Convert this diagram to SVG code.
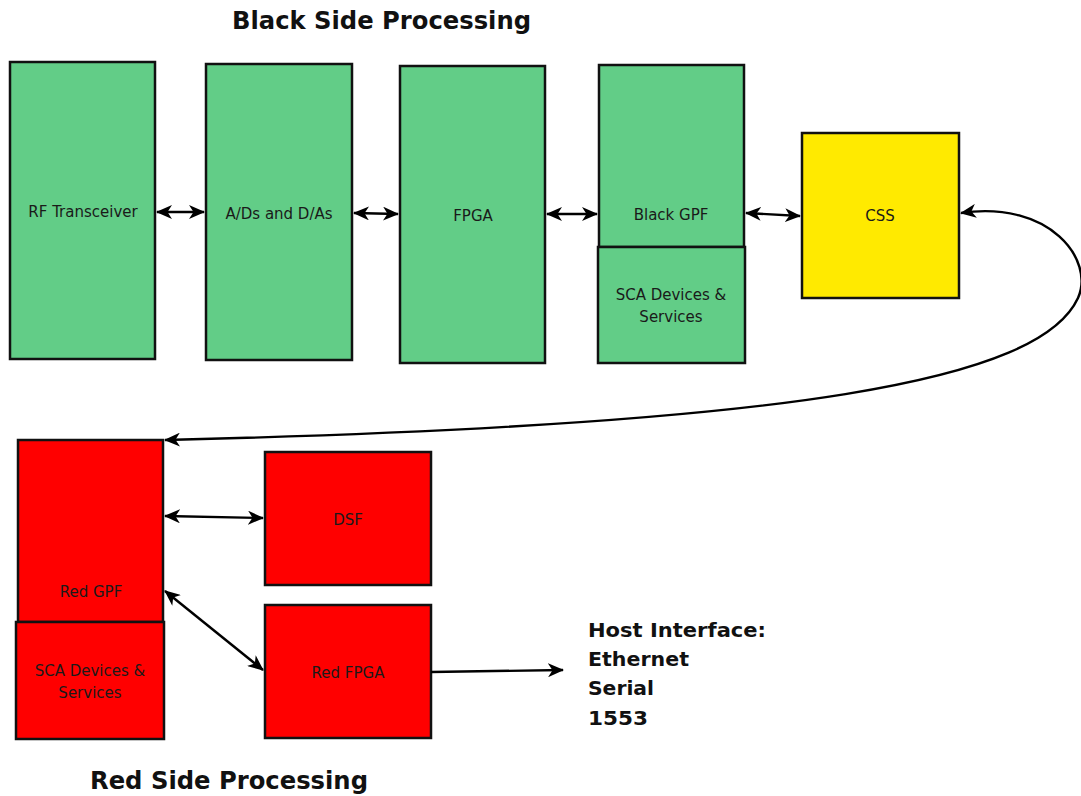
<svg xmlns="http://www.w3.org/2000/svg" width="1081" height="796" viewBox="0 0 1081 796">
  <defs>
    <marker id="arr" viewBox="0 0 16 14" refX="15" refY="7" markerWidth="16" markerHeight="14" markerUnits="userSpaceOnUse" orient="auto-start-reverse">
      <path d="M0,0 L16,7 L0,14 L4.5,7 Z" fill="#000"/>
    </marker>
    <style>
      .green { fill: #62cd87; stroke: #111; stroke-width: 2.5; }
      .red { fill: #ff0000; stroke: #111; stroke-width: 2.5; }
      .yellow { fill: #ffea00; stroke: #111; stroke-width: 2.5; }
      .lbl { font-family: "DejaVu Sans", Verdana, sans-serif; font-size: 15px; fill: #1a1a1a; text-anchor: middle; }
      .title { font-family: "DejaVu Sans", Verdana, sans-serif; font-size: 24px; font-weight: bold; fill: #111; }
      .host { font-family: "DejaVu Sans", Verdana, sans-serif; font-size: 20px; font-weight: bold; fill: #111; }
      .conn { fill: none; stroke: #000; stroke-width: 2.4; }
    </style>
  </defs>

  <rect width="1081" height="796" fill="#fff"/>

  <text class="title" x="232" y="29" textLength="299" lengthAdjust="spacingAndGlyphs">Black Side Processing</text>
  <text class="title" x="90" y="789" textLength="278" lengthAdjust="spacingAndGlyphs">Red Side Processing</text>

  <g id="rf-transceiver">
    <rect class="green" x="10" y="62" width="145" height="297"/>
    <text class="lbl" x="83" y="217">RF Transceiver</text>
  </g>
  <g id="ad-da">
    <rect class="green" x="206" y="64" width="146" height="296"/>
    <text class="lbl" x="279" y="219">A/Ds and D/As</text>
  </g>
  <g id="fpga">
    <rect class="green" x="400" y="66" width="145" height="297"/>
    <text class="lbl" x="473" y="221">FPGA</text>
  </g>
  <g id="black-gpp">
    <rect class="green" x="599" y="65" width="145" height="182"/>
    <text class="lbl" x="671" y="220">Black GPF</text>
  </g>
  <g id="black-sca">
    <rect class="green" x="598" y="247" width="147" height="116"/>
    <text class="lbl" x="671" y="300">SCA Devices &amp;</text>
    <text class="lbl" x="671" y="322">Services</text>
  </g>
  <g id="css">
    <rect class="yellow" x="802" y="133" width="157" height="165"/>
    <text class="lbl" x="880" y="221">CSS</text>
  </g>

  <g id="red-gpp">
    <rect class="red" x="18" y="440" width="145" height="182"/>
    <text class="lbl" x="91" y="597">Red GPF</text>
  </g>
  <g id="red-sca">
    <rect class="red" x="16" y="622" width="148" height="117"/>
    <text class="lbl" x="90" y="676">SCA Devices &amp;</text>
    <text class="lbl" x="90" y="698">Services</text>
  </g>
  <g id="dsp">
    <rect class="red" x="265" y="452" width="166" height="133"/>
    <text class="lbl" x="348" y="525">DSF</text>
  </g>
  <g id="red-fpga">
    <rect class="red" x="265" y="605" width="166" height="133"/>
    <text class="lbl" x="348" y="678">Red FPGA</text>
  </g>

  <g id="host-interface">
    <text class="host" x="588" y="637" textLength="178" lengthAdjust="spacingAndGlyphs">Host Interface:</text>
    <text class="host" x="588" y="666" textLength="101" lengthAdjust="spacingAndGlyphs">Ethernet</text>
    <text class="host" x="588" y="695" textLength="66" lengthAdjust="spacingAndGlyphs">Serial</text>
    <text class="host" x="588" y="725" textLength="60" lengthAdjust="spacingAndGlyphs">1553</text>
  </g>

  <g id="connectors">
    <line class="conn" x1="157" y1="212" x2="204" y2="212" marker-start="url(#arr)" marker-end="url(#arr)"/>
    <line class="conn" x1="354" y1="213" x2="398" y2="214" marker-start="url(#arr)" marker-end="url(#arr)"/>
    <line class="conn" x1="547" y1="214" x2="597" y2="214" marker-start="url(#arr)" marker-end="url(#arr)"/>
    <line class="conn" x1="746" y1="213" x2="800" y2="216" marker-start="url(#arr)" marker-end="url(#arr)"/>
    <path class="conn" d="M961,213 C1050,200 1095,260 1078,298 C1040,380 800,425 165,440" marker-start="url(#arr)" marker-end="url(#arr)"/>
    <line class="conn" x1="165" y1="516" x2="263" y2="518" marker-start="url(#arr)" marker-end="url(#arr)"/>
    <line class="conn" x1="165" y1="591" x2="263" y2="670" marker-start="url(#arr)" marker-end="url(#arr)"/>
    <line class="conn" x1="431" y1="672" x2="563" y2="670" marker-end="url(#arr)"/>
  </g>
</svg>
